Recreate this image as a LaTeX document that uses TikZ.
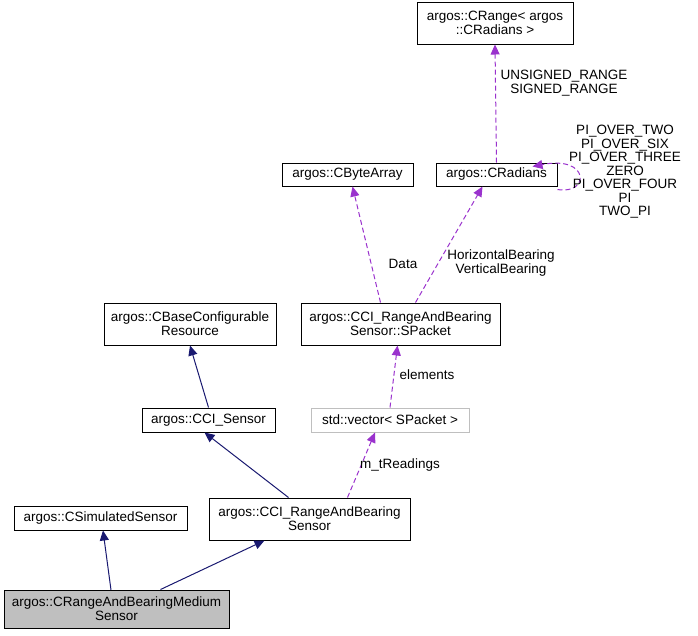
\documentclass[tikz,border=0pt]{standalone}
\usepackage{fontspec}
\setmainfont{Liberation Sans}
\usetikzlibrary{arrows.meta}
\definecolor{navy}{RGB}{25,25,112}
\definecolor{purp}{RGB}{154,50,205}
\begin{document}
\begin{tikzpicture}[x=1pt,y=-1pt,line width=1pt,
  box/.style={draw=black,fill=white,inner sep=0pt,font=\fontsize{13.5}{14}\selectfont,align=center},
  inh/.style={navy,-{Triangle[length=10pt,width=9pt]}},
  use/.style={purp,dash pattern=on 5pt off 3pt,-{Triangle[length=10pt,width=9pt]}},
  lbl/.style={text=black,font=\fontsize{13.5}{13.5}\selectfont,align=center,inner sep=1pt}]
\useasboundingbox (0,0) rectangle (698,635);
\node[box,minimum width=156pt,minimum height=42pt] (range) at (495,23) {argos::CRange< argos\\::CRadians >};
\node[box,minimum width=121pt,minimum height=23pt] (rad) at (496.5,174.5) {argos::CRadians};
\node[box,minimum width=131pt,minimum height=23pt] (byte) at (347.5,174.5) {argos::CByteArray};
\node[box,minimum width=172pt,minimum height=42pt] (base) at (190,324) {argos::CBaseConfigurable\\Resource};
\node[box,minimum width=199pt,minimum height=42pt] (pkt) at (400.5,324) {argos::CCI\_RangeAndBearing\\Sensor::SPacket};
\node[box,draw=gray!50,minimum width=158pt,minimum height=24pt] (vec) at (390,420) {std::vector< SPacket >};
\node[box,minimum width=133pt,minimum height=24pt] (cci) at (208.5,420) {argos::CCI\_Sensor};
\node[box,minimum width=201pt,minimum height=42pt] (rab) at (309.5,519) {argos::CCI\_RangeAndBearing\\Sensor};
\node[box,minimum width=173pt,minimum height=24pt] (sim) at (100.5,518) {argos::CSimulatedSensor};
\node[box,fill=gray!50,minimum width=225pt,minimum height=38pt] (me) at (116.5,609) {argos::CRangeAndBearingMedium\\Sensor};
\coordinate (a1) at (111,590); \coordinate (a2) at (103,530);
\draw[inh] (a1) -- (sim.south -| a2);
\draw[inh] ([xshift=44pt]me.north) -- ([xshift=-45pt]rab.south);
\draw[inh] ([xshift=-21pt]rab.north) -- ([xshift=-4pt]cci.south);
\draw[inh] (cci.north) -- ([xshift=0pt]base.south);
\draw[use] ([xshift=38pt]rab.north) -- ([xshift=-15pt]vec.south);
\node[lbl] (l1) at (400,465) {m\_tReadings};
\draw[use] (vec.north) -- ([xshift=-3pt]pkt.south);
\node[lbl] (l2) at (427,375) {elements};
\draw[use] ([xshift=-20pt]pkt.north) -- ([xshift=5pt]byte.south);
\node[lbl] (l3) at (403,264) {Data};
\draw[use] ([xshift=15pt]pkt.north) -- ([xshift=-14pt]rad.south);
\node[lbl] (l4) at (501,263) {HorizontalBearing\\VerticalBearing};
\draw[use] (rad.north) -- (range.south);
\node[lbl] (l5) at (564,83) {UNSIGNED\_RANGE\\SIGNED\_RANGE};
\draw[use] ([yshift=-3pt]rad.south east) .. controls (590,195) and (590,155) .. ([yshift=-4pt,xshift=-25pt]rad.north east);
\node[lbl,inner sep=0pt] (loopl) at (625,172) {PI\_OVER\_TWO\\PI\_OVER\_SIX\\PI\_OVER\_THREE\\ZERO\\PI\_OVER\_FOUR\\PI\\TWO\_PI};
\end{tikzpicture}
\end{document}
